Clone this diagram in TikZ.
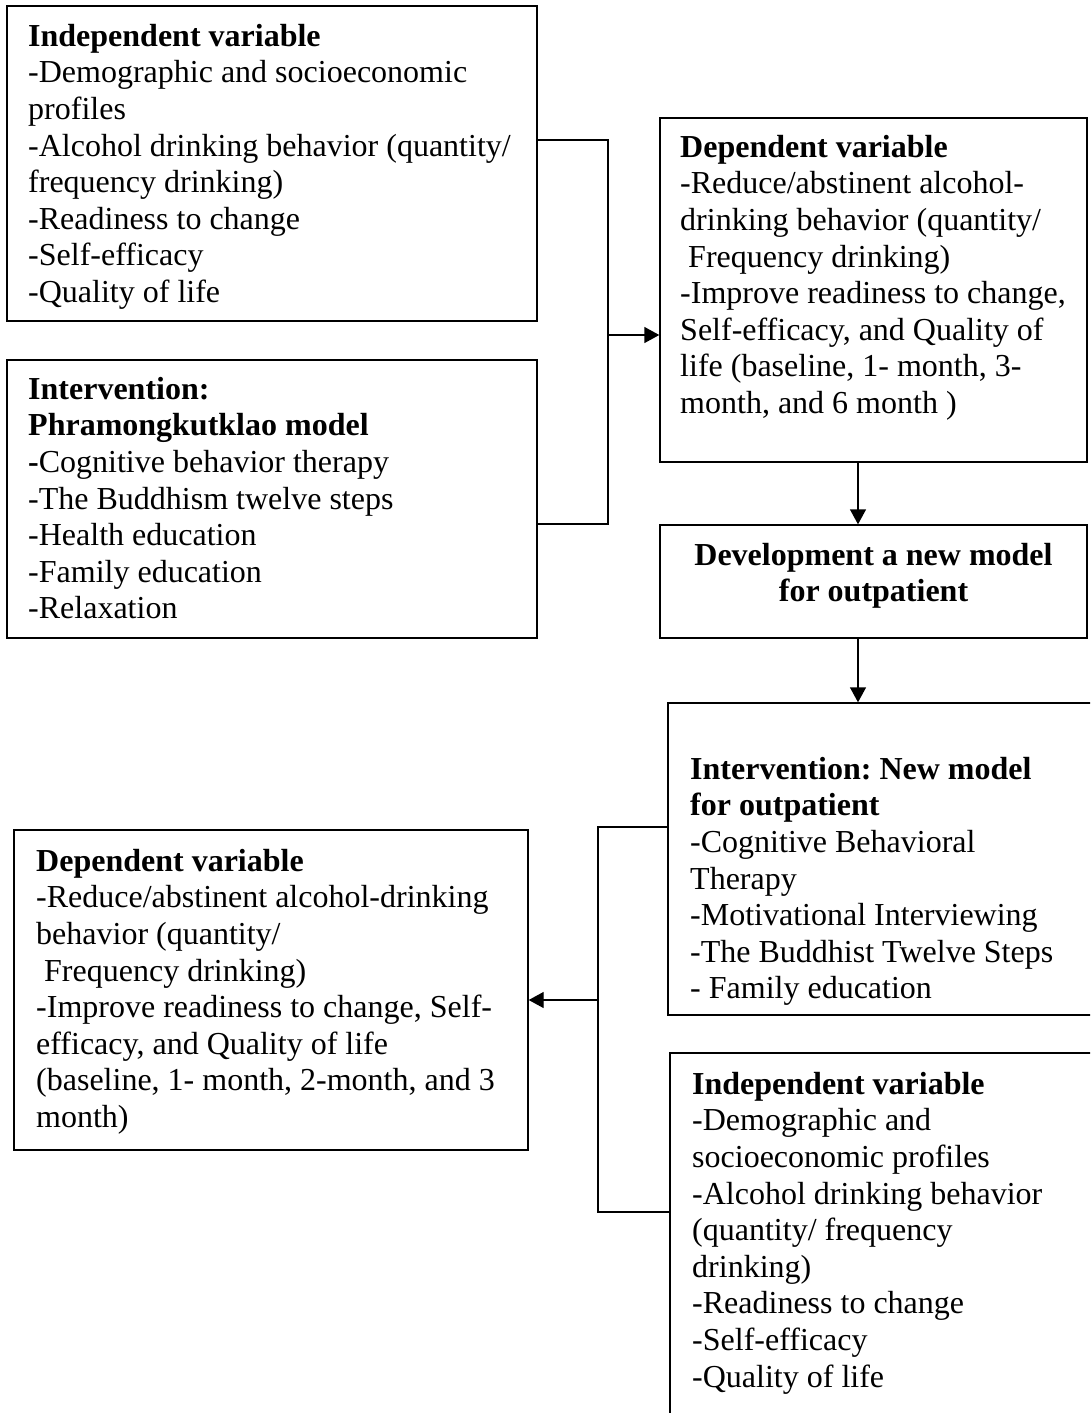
\documentclass[tikz,border=0pt]{standalone}
\usepackage{fontspec}
\setmainfont{Liberation Serif}
\usetikzlibrary{arrows.meta,fit}
\frenchspacing
\begin{document}
\begin{tikzpicture}[x=1pt,y=-1pt,
  box/.style={draw, line width=1.4pt, inner sep=0pt},
  txt/.style={anchor=north west, inner sep=0pt, align=left, font=\fontsize{32}{36.6}\selectfont},
  ctxt/.style={anchor=north, inner sep=0pt, align=center, font=\fontsize{32}{36.6}\selectfont\bfseries},
  link/.style={line width=1.4pt},
  arr/.style={line width=1.4pt, -{Triangle[length=15pt,width=16pt]}}]
\clip (0,0) rectangle (1090,1413);
\fill[white] (0,0) rectangle (1090,1413);

% boxes
\node[box, fit={(7,6) (537,321)}] (iv1) {};
\node[box, fit={(7,360) (537,638)}] (int1) {};
\node[box, fit={(660,118) (1087,462)}] (dv1) {};
\node[box, fit={(660,525) (1087,638)}] (dev) {};
\node[box, fit={(668,703) (1130,1015)}] (int2) {};
\node[box, fit={(670,1053) (1130,1460)}] (iv2) {};
\node[box, fit={(14,830) (528,1150)}] (dv2) {};

% texts
\node[txt] (t1) at (28,20.4) {\strut\textbf{Independent variable}\\
-Demographic and socioeconomic\\
profiles\\
-Alcohol drinking behavior (quantity/\\
frequency drinking)\\
-Readiness to change\\
-Self-efficacy\\
-Quality of life};

\node[txt] (t2) at (28,373.4) {\strut\textbf{Intervention:}\\
\textbf{Phramongkutklao model}\\
\textbf{-}Cognitive behavior therapy\\
-The Buddhism twelve steps\\
-Health education\\
-Family education\\
-Relaxation};

\node[txt] (t3) at (680,131.4) {\strut\textbf{Dependent variable}\\
-Reduce/abstinent alcohol-\\
drinking behavior (quantity/\\
\hspace*{8pt}Frequency drinking)\\
-Improve readiness to change,\\
Self-efficacy, and Quality of\\
life (baseline, 1- month, 3-\\
month, and 6 month )};

\node[ctxt] (t4) at (873.5,539.4) {\strut Development a new model\\for outpatient};

\node[txt] (t5) at (690,753.4) {\strut\textbf{Intervention: New model}\\
\textbf{for outpatient}\\
-Cognitive Behavioral\\
Therapy\\
-Motivational Interviewing\\
-The Buddhist Twelve Steps\\
- Family education};

\node[txt] (t6) at (692,1068.4) {\strut\textbf{Independent variable}\\
-Demographic and\\
socioeconomic profiles\\
-Alcohol drinking behavior\\
(quantity/ frequency\\
drinking)\\
-Readiness to change\\
-Self-efficacy\\
-Quality of life};

\node[txt] (t7) at (36,845.4) {\strut\textbf{Dependent variable}\\
-Reduce/abstinent alcohol-drinking\\
behavior (quantity/\\
\hspace*{8pt}Frequency drinking)\\
-Improve readiness to change, Self-\\
efficacy, and Quality of life\\
(baseline, 1- month, 2-month, and 3\\
month)};

% connectors
\coordinate (h1) at (0,140);
\coordinate (h2) at (0,524);
\coordinate (bus1) at (608,335);
\coordinate (h3) at (0,827);
\coordinate (h4) at (0,1212);
\coordinate (bus2) at (598,1000);
\coordinate (ax) at (858,0);

\draw[link] (iv1.east |- h1) -| (bus1) |- (int1.east |- h2);
\draw[arr] (bus1) -- (dv1.west |- bus1);
\draw[arr] (dv1.south -| ax) -- (dev.north -| ax);
\draw[arr] (dev.south -| ax) -- (int2.north -| ax);
\draw[link] (int2.west |- h3) -| (bus2) |- (iv2.west |- h4);
\draw[arr] (bus2) -- (dv2.east |- bus2);
\end{tikzpicture}
\end{document}
